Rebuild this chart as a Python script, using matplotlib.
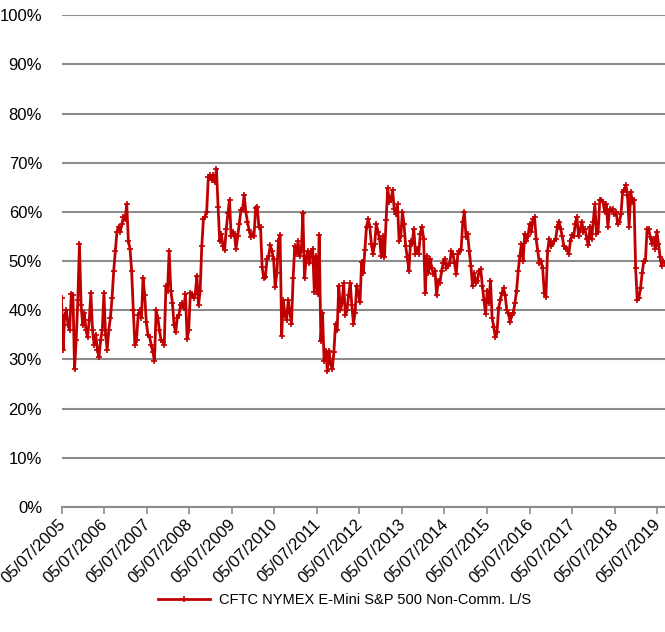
import matplotlib
matplotlib.use('Agg')
import matplotlib.pyplot as plt
import matplotlib.ticker as mtick
import matplotlib.transforms as mtrans
import pandas as pd
import numpy as np

plt.rcParams['font.family'] = ['Liberation Sans', 'DejaVu Sans']

# biweekly readings (%), one list per year starting 05/07
yr_2005 = [42.5, 32, 39, 40, 37, 36, 43.3, 43, 28, 34, 42, 53.5, 41, 37, 39.5, 36,
           34.5, 38, 43.5, 36, 33, 35, 32, 30.5, 34, 36]
yr_2006 = [43.5, 35, 32, 36, 38.5, 42.5, 48, 52, 56, 57, 56, 57.5, 59, 58.5, 61.5, 54,
           52.5, 48, 40, 33, 34, 39, 40, 38.5, 46.5, 43]
yr_2007 = [37.5, 35, 34.5, 33, 31.5, 29.7, 40, 38.5, 36, 34, 33.5, 33, 45, 44, 52, 44,
           41.5, 37, 35.5, 38.5, 39, 41, 41.5, 40.5, 43.3, 34.2]
yr_2008 = [36, 43.5, 43.3, 42.5, 43.3, 47, 41, 44, 53, 58.5, 59, 60, 67, 67.5, 66.5, 67.5,
           66, 68.7, 61, 54, 55.5, 53, 52.2, 56.5, 59.7, 62.4]
yr_2009 = [55, 56, 55.5, 52.5, 55, 57.6, 60.3, 60.5, 63.5, 60, 58, 56.3, 54.9, 55.5, 55, 60.7,
           61, 57, 57, 48.8, 46.5, 46.7, 50.5, 51, 53.2, 52]
yr_2010 = [50.5, 44.7, 47.5, 54, 55.2, 34.8, 42, 39, 38, 42, 39.5, 37.2, 46.5, 53, 51.5, 54,
           51, 52, 59.7, 46.5, 50.5, 52, 49.5, 52, 52.5, 43.7]
yr_2011 = [51, 43.3, 55.2, 33.8, 39.5, 29.7, 31.8, 27.6, 31.8, 29, 28, 31.5, 37.2, 35.9, 45, 40,
           41.5, 45.5, 39, 40, 43, 45.5, 41, 37.2, 39.5, 45]
yr_2012 = [43.5, 41.6, 49.8, 47.5, 52.2, 57, 58.5, 57, 53.5, 51.5, 53.5, 57.5, 56, 54.5, 51, 55,
           50.8, 58.3, 64.8, 62, 62.5, 64.4, 60.5, 59.5, 61.5, 54]
yr_2013 = [55, 60, 57.5, 53, 50.8, 48, 54, 53.5, 56.5, 51.5, 52.5, 51.5, 55.5, 57, 54.5, 43.5,
           51, 47.5, 50.5, 48.5, 47.4, 48, 43, 46, 45.5, 48]
yr_2014 = [49.5, 50.5, 48.5, 49, 49.5, 52, 51.5, 49.5, 47.4, 51.5, 52, 52.2, 58, 60, 54.9, 55.5,
           52, 49, 45, 47.5, 45.5, 46, 48, 48.4, 45, 42]
yr_2015 = [39.3, 44, 41.5, 46, 38.5, 36.5, 34.5, 35.5, 40.5, 42, 43.5, 44.5, 43, 40, 39.5, 37.5,
           39, 39.5, 41.5, 44, 48, 51, 53.5, 50, 55.5, 54]
yr_2016 = [55, 57.5, 56, 58.5, 59, 54.5, 52, 49.5, 50, 48.5, 43.5, 42.7, 52, 54.5, 53, 53.5,
           54, 54.5, 57, 58, 56.6, 55, 53, 52.5, 52.5, 51.5]
yr_2017 = [54, 55.3, 55, 57.6, 59, 55, 56.3, 58, 56, 56.5, 54.5, 53.2, 57, 54.5, 58, 61.5,
           55.5, 56, 62.4, 62.5, 62, 60, 61.5, 57, 60.5, 60.3]
yr_2018 = [60.5, 59.5, 60, 57.5, 58, 59.5, 64, 64.5, 65.4, 63.5, 57, 64, 62, 62.5, 48.5, 42,
           42.5, 44.5, 47.5, 50, 50, 56.5, 56.5, 54.9, 53.5, 54.5]
yr_2019 = [52.5, 56, 53.5, 50.8, 49, 50, 49.5]

ls_ratio = (yr_2005 + yr_2006 + yr_2007 + yr_2008 + yr_2009 + yr_2010 + yr_2011 + yr_2012
            + yr_2013 + yr_2014 + yr_2015 + yr_2016 + yr_2017 + yr_2018 + yr_2019)
dates = pd.date_range('2005-07-05', periods=len(ls_ratio), freq='14D')

tick_years = list(range(2005, 2020))
tick_dates = pd.to_datetime(['%d-07-05' % y for y in tick_years])
tick_labels = ['05/07/%d' % y for y in tick_years]

fig = plt.figure(figsize=(6.65, 6.32), dpi=100)
ax = fig.add_axes([0.0925, 0.198, 0.9075, 0.778])

red = '#C00000'
grey = '#8c8c8c'
ax.plot(dates, np.array(ls_ratio) / 100, color=red, lw=2, marker='+', ms=4, mew=1.2,
        label='CFTC NYMEX E-Mini S&P 500 Non-Comm. L/S')

ax.set_ylim(0, 1)
ax.set_xlim(dates[0], dates[-1])
ax.set_yticks(np.arange(0, 1.01, 0.1))
ax.yaxis.set_major_formatter(mtick.PercentFormatter(1, decimals=0))
ax.yaxis.grid(True, color=grey, lw=1.5)
ax.set_axisbelow(True)
for s in ['left', 'right', 'top']:
    ax.spines[s].set_visible(False)
ax.spines['bottom'].set_color(grey)
ax.spines['bottom'].set_linewidth(1.5)

ax.set_xticks(tick_dates)
ax.set_xticklabels(tick_labels, rotation=45, ha='right', rotation_mode='anchor')
ax.tick_params(axis='y', length=0, pad=14, labelsize=12)
ax.tick_params(axis='x', length=5, color=grey, width=1.2, pad=2, labelsize=12)
# nudge the rotated labels a bit left so the last one stays inside
shift = mtrans.ScaledTranslation(-4 / 100, 0, fig.dpi_scale_trans)
for lbl in ax.get_xticklabels():
    lbl.set_transform(lbl.get_transform() + shift)

fig.legend(loc='lower center', bbox_to_anchor=(0.518, 0.018), frameon=False, fontsize=10.5,
           handlelength=3.6, handletextpad=0.6)

fig.savefig('out.png', dpi=100)
